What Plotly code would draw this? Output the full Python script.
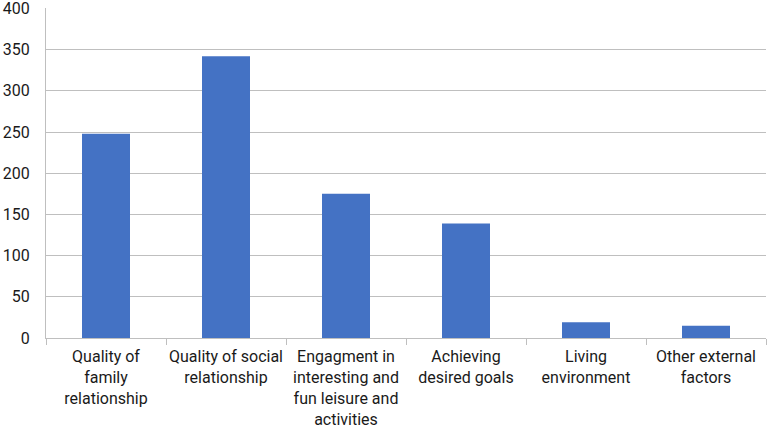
import plotly.graph_objects as go

# categories and counts
categories = [
    "Quality of<br>family<br>relationship",
    "Quality of social<br>relationship",
    "Engagment in<br>interesting and<br>fun leisure and<br>activities",
    "Achieving<br>desired goals",
    "Living<br>environment",
    "Other external<br>factors",
]
counts = [248, 342, 175, 139, 19, 15]
y_ticks = [0, 50, 100, 150, 200, 250, 300, 350, 400]

fig = go.Figure(
    go.Bar(x=categories, y=counts, marker=dict(color="#4472C4", line=dict(width=0)))
)

fig.update_layout(
    width=768,
    height=437,
    margin=dict(l=46, r=2, t=8, b=99),
    plot_bgcolor="white",
    paper_bgcolor="white",
    bargap=0.6,
    showlegend=False,
    font=dict(family="Roboto, sans-serif", size=16, color="#1a1a1a"),
    xaxis=dict(
        showline=True,
        linecolor="#BFBFBF",
        linewidth=1,
        ticks="outside",
        tickson="boundaries",
        ticklen=6,
        tickcolor="#BFBFBF",
        showgrid=False,
        tickangle=0,
        automargin=False,
        ticklabelstandoff=4,
    ),
    yaxis=dict(
        range=[0, 400.5],
        tickvals=y_ticks,
        showgrid=True,
        gridcolor="#BFBFBF",
        gridwidth=1,
        showline=True,
        linecolor="#BFBFBF",
        zeroline=False,
        ticks="",
        automargin=False,
        ticklabelstandoff=12,
        ticklabeloverflow="allow",
    ),
)

# drop the default page margin so the figure sits at the window corner
fig.write_html(
    "out.html",
    config={"displayModeBar": False},
    post_script="document.body.style.margin='0';",
)
